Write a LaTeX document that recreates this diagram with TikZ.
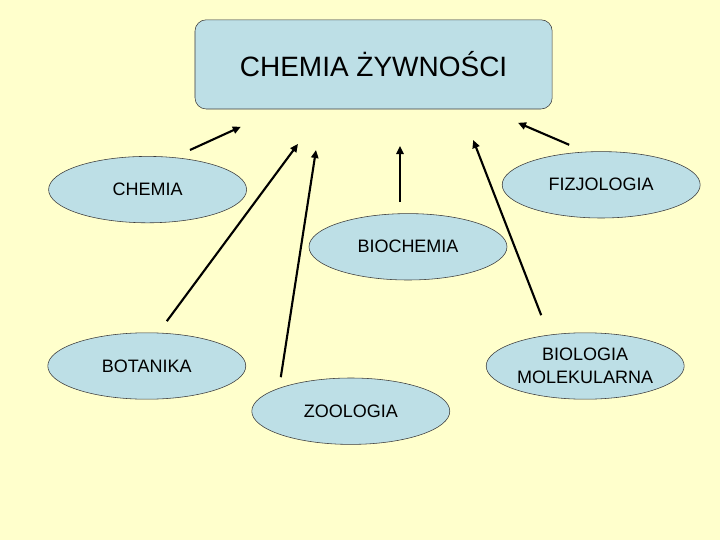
\documentclass[tikz,border=0pt]{standalone}
\usepackage{fontspec}
\setmainfont{Liberation Sans}
\usetikzlibrary{shapes.geometric, arrows.meta, backgrounds}
\definecolor{slideyellow}{RGB}{255,255,204}
\definecolor{topicblue}{RGB}{189,223,230}
\definecolor{edgegray}{RGB}{60,60,60}

\tikzset{
  field/.style={ellipse, draw=edgegray, fill=topicblue, thin,
                minimum width=4.95cm, minimum height=1.66cm, inner sep=0pt,
                align=center, font=\fontsize{12.8}{16.4}\selectfont},
  feed/.style={-{Triangle[length=2mm,width=1.8mm]}, line width=1.5pt}
}

\begin{document}
\begin{tikzpicture}
    % Slide background
    \fill[slideyellow] (-9,-6.75) rectangle (9,6.75);
    \useasboundingbox (-9,-6.75) rectangle (9,6.75);

    % Main topic
    \node[rectangle, rounded corners=8pt, draw=edgegray, fill=topicblue,
          minimum width=8.93cm, minimum height=2.23cm,
          font=\fontsize{19.9}{24}\selectfont] (food) at (0.34, 5.14)
        {CHEMIA ŻYWNOŚCI};

    % Contributing fields
    \node[field] (chem) at (-5.31, 2.01) {CHEMIA};
    \node[field] (fizj) at (6.03, 2.13) {FIZJOLOGIA};
    \node[field] (bioch) at (1.2, 0.58) {BIOCHEMIA};
    \node[field] (bot) at (-5.33, -2.4) {BOTANIKA};
    \node[field] (biomol) at (5.63, -2.4) {BIOLOGIA\\MOLEKULARNA};
    \node[field] (zoo) at (-0.23, -3.53) {ZOOLOGIA};

    % Arrow ends
    \coordinate (chem-from) at (-4.25, 3.0);
    \coordinate (chem-to) at (-2.98, 3.58);
    \coordinate (bot-from) at (-4.83, -1.28);
    \coordinate (bot-to) at (-1.55, 3.15);
    \coordinate (zoo-from) at (-1.98, -2.68);
    \coordinate (zoo-to) at (-1.1, 3.0);
    \coordinate (bioch-from) at (1.0, 1.7);
    \coordinate (bioch-to) at (1.0, 3.1);
    \coordinate (biomol-from) at (4.53, -1.13);
    \coordinate (biomol-to) at (2.83, 3.25);
    \coordinate (fizj-from) at (5.23, 3.13);
    \coordinate (fizj-to) at (3.95, 3.68);

    % Arrows towards the main topic
    \draw[feed] (chem-from) -- (chem-to);
    \draw[feed] (bot-from) -- (bot-to);
    \draw[feed] (zoo-from) -- (zoo-to);
    \draw[feed] (bioch-from) -- (bioch-to);
    \draw[feed] (biomol-from) -- (biomol-to);
    \draw[feed] (fizj-from) -- (fizj-to);
\end{tikzpicture}
\end{document}
